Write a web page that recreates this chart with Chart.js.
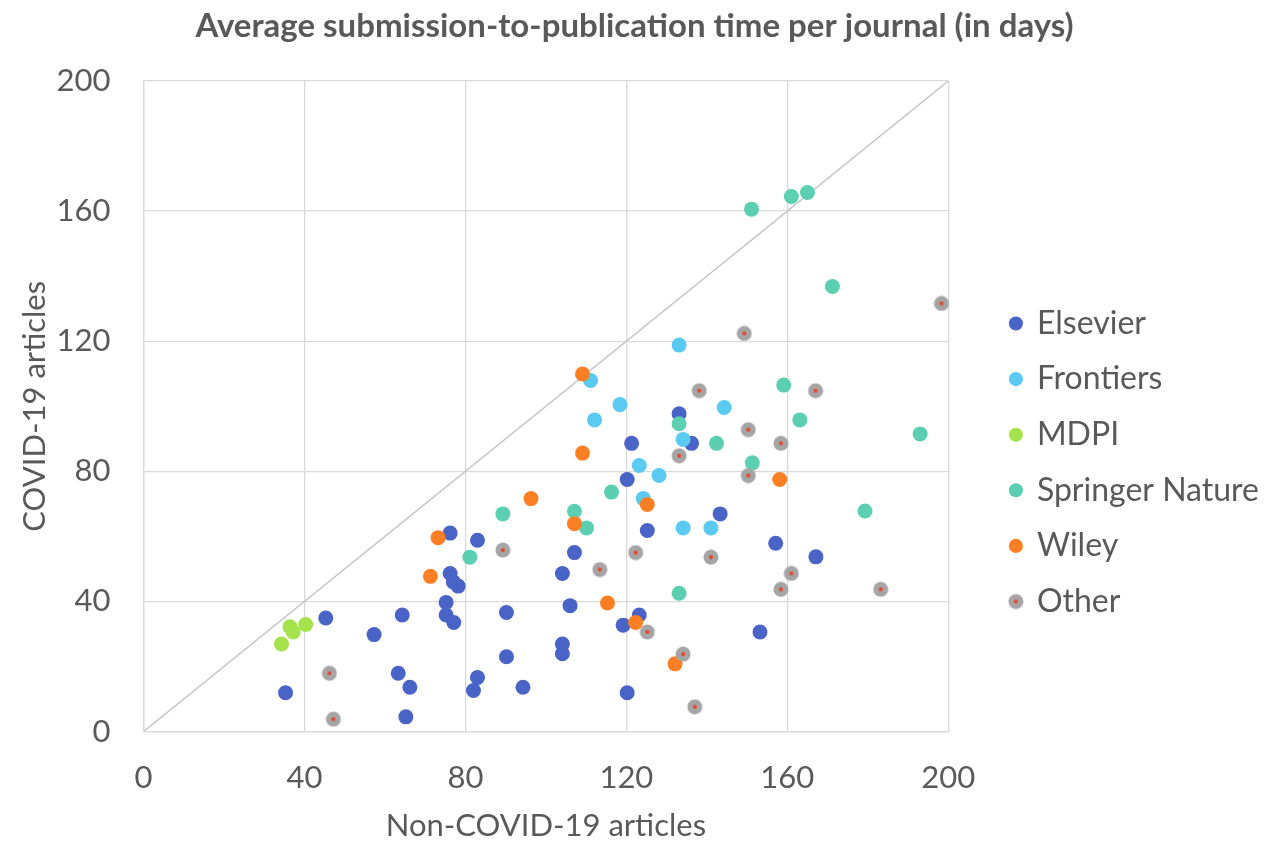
<!DOCTYPE html>
<html>
<head>
<meta charset="utf-8">
<script src="https://cdn.jsdelivr.net/npm/chart.js@4.4.1/dist/chart.umd.min.js"></script>
<style>
  html, body { margin: 0; padding: 0; background: #fff; }
  #wrap { width: 1269px; height: 845px; }
</style>
</head>
<body>
<div id="wrap"><canvas id="chart" width="1269" height="845"></canvas></div>
<script>
// values (days)
const elsevierX = [35.3, 45.3, 57.3, 63.3, 64.3, 66.2, 65.2, 75.2, 75.2, 76.2, 76.2, 77.0, 78.2, 77.1, 83.0, 82.0, 83.0, 90.2, 90.2, 94.3, 104.1, 104.1, 104.1, 106.0, 107.1, 120.2, 121.3, 120.2, 119.2, 123.2, 125.2, 133.1, 136.2, 143.3, 157.1, 167.1, 153.2];
const elsevierY = [11.9, 34.9, 29.8, 17.9, 35.8, 13.6, 4.5, 35.8, 39.7, 61.0, 48.6, 46.0, 44.7, 33.5, 58.8, 12.6, 16.6, 36.6, 23.0, 13.6, 48.6, 26.9, 23.9, 38.7, 55.0, 77.5, 88.6, 11.9, 32.7, 35.8, 61.8, 97.7, 88.6, 66.9, 57.9, 53.7, 30.6];

const frontiersX = [111.1, 118.4, 112.1, 133.1, 144.3, 134.1, 123.2, 128.1, 124.2, 134.1, 141.0];
const frontiersY = [107.9, 100.5, 95.8, 118.8, 99.6, 89.8, 81.8, 78.7, 71.6, 62.6, 62.6];

const mdpiX = [36.4, 37.2, 40.3, 34.3];
const mdpiY = [32.2, 30.6, 32.9, 26.9];

const springerX = [151.1, 161.0, 165.0, 171.2, 159.1, 163.1, 193.0, 179.3, 133.1, 142.4, 151.3, 116.3, 107.1, 110.1, 133.1, 89.3, 81.1];
const springerY = [160.6, 164.5, 165.7, 136.8, 106.5, 95.8, 91.5, 67.8, 94.6, 88.6, 82.6, 73.6, 67.7, 62.6, 42.5, 66.9, 53.6];

const wileyX = [109.1, 109.1, 158.1, 96.3, 73.2, 71.3, 125.2, 107.1, 115.3, 122.3, 132.1];
const wileyY = [109.9, 85.6, 77.5, 71.6, 59.6, 47.7, 69.8, 63.9, 39.5, 33.5, 20.8];

const otherX = [198.3, 167.0, 158.4, 161.0, 158.4, 183.2, 149.3, 138.1, 150.3, 133.1, 150.3, 122.3, 113.4, 141.0, 125.2, 134.1, 137.0, 89.3, 46.2, 47.2];
const otherY = [131.6, 104.8, 88.6, 48.6, 43.7, 43.7, 122.4, 104.8, 92.8, 84.8, 78.7, 55.0, 49.8, 53.6, 30.6, 23.8, 7.6, 55.8, 17.9, 3.8];

const publishers = ['Elsevier', 'Frontiers', 'MDPI', 'Springer Nature', 'Wiley', 'Other'];
const axisTicks = [0, 40, 80, 120, 160, 200];

const textColor = '#595959';
const gridColor = '#d9d9d9';

function pairs(xs, ys) {
    return xs.map((x, i) => ({ x: x, y: ys[i] }));
}

// gray dot with a small red centre, used for "Other"
function otherMarker() {
    const c = document.createElement('canvas');
    c.width = 16; c.height = 16;
    const g = c.getContext('2d');
    g.fillStyle = '#a5a5a5';
    g.beginPath(); g.arc(8, 8, 7.5, 0, Math.PI * 2); g.fill();
    g.fillStyle = '#e8442e';
    g.beginPath(); g.arc(8, 8, 2, 0, Math.PI * 2); g.fill();
    return c;
}

function series(label, xs, ys, color, order, style) {
    return {
        label: label,
        data: pairs(xs, ys),
        backgroundColor: color,
        borderColor: color,
        borderWidth: 0,
        pointRadius: 7.5,
        pointHoverRadius: 7.5,
        pointStyle: style || 'circle',
        order: order,
        clip: false
    };
}

const datasets = [
    series(publishers[0], elsevierX, elsevierY, '#4a63c6', 6),
    series(publishers[1], frontiersX, frontiersY, '#5bcaf3', 5),
    series(publishers[2], mdpiX, mdpiY, '#a6e24c', 4),
    series(publishers[3], springerX, springerY, '#5ccfb0', 3),
    series(publishers[4], wileyX, wileyY, '#fd7f24', 2),
    series(publishers[5], otherX, otherY, '#a5a5a5', 1, otherMarker()),
    {
        label: 'diagonal',
        data: [{ x: axisTicks[0], y: axisTicks[0] }, { x: axisTicks[axisTicks.length - 1], y: axisTicks[axisTicks.length - 1] }],
        showLine: true,
        borderColor: '#c4c4c4',
        borderWidth: 1.5,
        pointRadius: 0,
        order: 10
    }
];

new Chart(document.getElementById('chart'), {
    type: 'scatter',
    data: { datasets: datasets },
    options: {
        responsive: false,
        animation: false,
        layout: { padding: { left: 0, right: 0, top: 0, bottom: 0 } },
        plugins: {
            title: {
                display: true,
                text: 'Average submission-to-publication time per journal (in days)',
                color: textColor,
                font: { family: 'Lato', size: 33, weight: 'bold' },
                padding: { top: 7, bottom: 34.4 }
            },
            legend: {
                position: 'right',
                maxWidth: 320,
                // empty legend title only pushes the entries down
                title: { display: true, text: '', font: { size: 10 }, padding: { top: 0, bottom: 68 } },
                labels: {
                    usePointStyle: true,
                    boxWidth: 10,
                    boxHeight: 10,
                    padding: 23.6,
                    color: textColor,
                    font: { family: 'Lato', size: 32 },
                    filter: item => item.text !== 'diagonal',
                    sort: (a, b) => a.datasetIndex - b.datasetIndex
                }
            },
            tooltip: { enabled: false }
        },
        scales: {
            x: {
                type: 'linear',
                min: 0,
                max: 200,
                afterBuildTicks: s => { s.ticks = axisTicks.map(v => ({ value: v })); },
                afterFit: s => { s.height = 113.5; },
                grid: { color: gridColor, lineWidth: 1.3, drawTicks: false },
                border: { color: gridColor, width: 1.3 },
                ticks: { color: textColor, font: { family: 'Lato', size: 31 }, padding: 28, maxRotation: 0 },
                title: {
                    display: true,
                    text: 'Non-COVID-19 articles',
                    color: textColor,
                    font: { family: 'Lato', size: 31 },
                    padding: { top: 0, bottom: 0 }
                }
            },
            y: {
                type: 'linear',
                min: 0,
                max: 200,
                afterBuildTicks: s => { s.ticks = axisTicks.map(v => ({ value: v })); },
                afterFit: s => { s.width = 143.5; },
                grid: { color: gridColor, lineWidth: 1.3, drawTicks: false },
                border: { color: gridColor, width: 1.3 },
                ticks: { color: textColor, font: { family: 'Lato', size: 31 }, padding: 33 },
                title: {
                    display: true,
                    text: 'COVID-19 articles',
                    color: textColor,
                    font: { family: 'Lato', size: 31 },
                    padding: { top: 16.4, bottom: 0 }
                }
            },
            // empty spacer between the plot and the legend
            gap: {
                type: 'linear',
                position: 'right',
                display: true,
                grid: { display: false, drawTicks: false },
                border: { display: false },
                ticks: { display: false },
                afterFit: s => { s.width = 39; }
            }
        }
    }
});
</script>
</body>
</html>
